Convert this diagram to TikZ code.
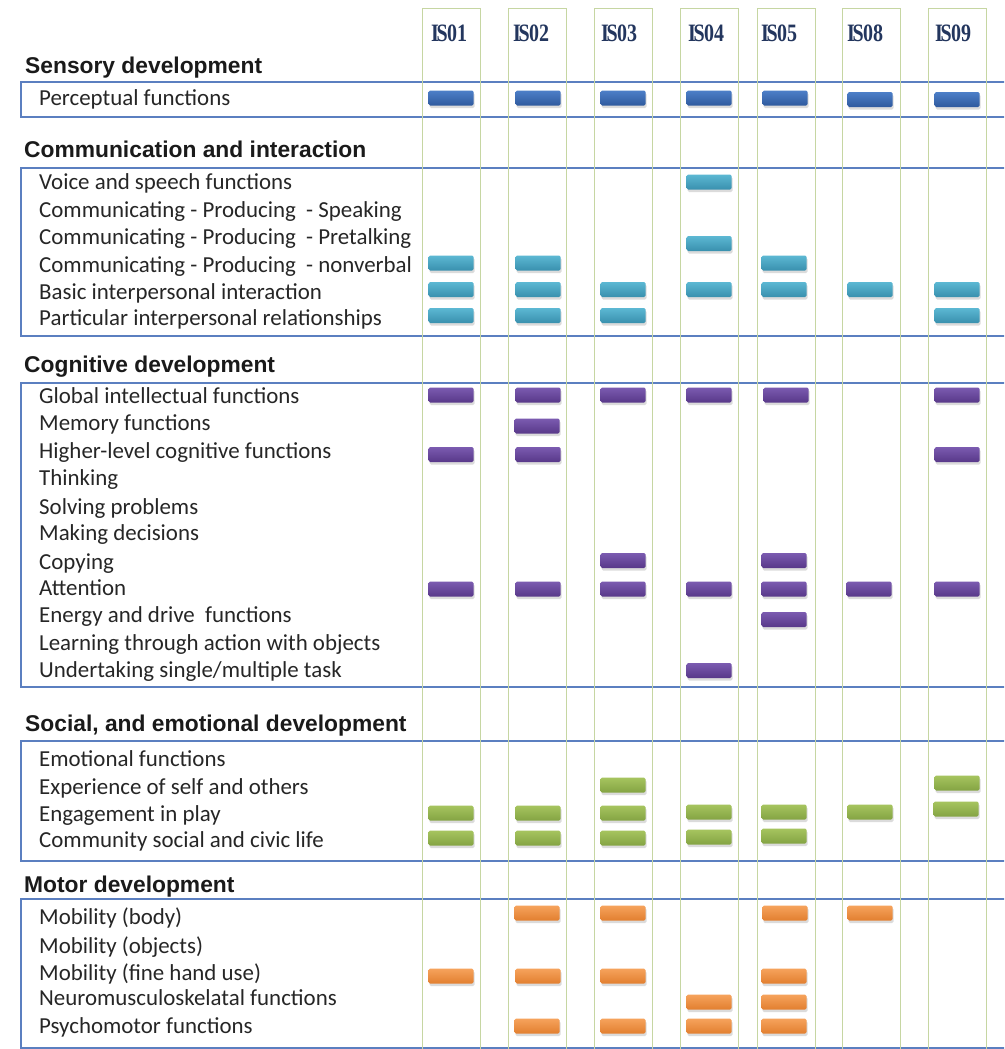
\documentclass[tikz,border=0pt]{standalone}
\usepackage{fontspec}
\setmainfont{Carlito}
\newfontfamily\headfont{Liberation Sans}
\newfontfamily\labfont{Liberation Serif}
\usetikzlibrary{shadows}
\definecolor{itemgray}{HTML}{262626}
\definecolor{headgray}{HTML}{1A1A1A}
\definecolor{labblue}{HTML}{23365E}
\definecolor{boxblue}{HTML}{5B7FC0}
\definecolor{colgreen}{HTML}{C6D6A2}
\definecolor{bluetop}{HTML}{4D7FC8}
\definecolor{bluebot}{HTML}{2F5A9E}
\definecolor{aquatop}{HTML}{5CB8D3}
\definecolor{aquabot}{HTML}{3990AE}
\definecolor{purptop}{HTML}{7B5BB0}
\definecolor{purpbot}{HTML}{583889}
\definecolor{greentop}{HTML}{A6C45F}
\definecolor{greenbot}{HTML}{84A443}
\definecolor{orangetop}{HTML}{F6A35C}
\definecolor{orangebot}{HTML}{E27F30}
\begin{document}
\begin{tikzpicture}[x=1pt,y=-1pt,
  item/.style={anchor=base west, inner sep=0pt, font=\fontsize{22.9}{27}\selectfont, text=itemgray},
  head/.style={anchor=base west, inner sep=0pt, font=\headfont\bfseries\fontsize{22.8}{27}\selectfont, text=headgray},
  collab/.style={anchor=base west, inner sep=0pt, text=labblue, font=\labfont\bfseries\fontsize{25}{29}\selectfont},
  secbox/.style={draw=boxblue, line width=1.5pt, anchor=north west, inner sep=0pt, minimum width=1000pt},
  colbox/.style={draw=colgreen, line width=1.4pt, anchor=north west, inner sep=0pt, minimum width=58pt, minimum height=1100pt},
  bar/.style={rounded corners=1.5pt, minimum width=45pt, minimum height=15pt, inner sep=0pt,
    drop shadow={opacity=0.28, shadow xshift=1pt, shadow yshift=-2.5pt}},
  bblue/.style={bar, top color=bluetop, bottom color=bluebot},
  baqua/.style={bar, top color=aquatop, bottom color=aquabot},
  bpurp/.style={bar, top color=purptop, bottom color=purpbot},
  bgreen/.style={bar, top color=greentop, bottom color=greenbot},
  borange/.style={bar, top color=orangetop, bottom color=orangebot}]
\clip (0,0) rectangle (1004,1049);
\fill[white] (0,0) rectangle (1004,1049);

% section boxes
\node[secbox, minimum height=35pt] (sensbox) at (20,81) {};
\node[secbox, minimum height=168pt] (commbox) at (20,167) {};
\node[secbox, minimum height=304pt] (cogbox) at (20,382) {};
\node[secbox, minimum height=120pt] (socbox) at (20,740) {};
\node[secbox, minimum height=149pt] (motbox) at (20,898) {};

% columns
\node[colbox] (c1) at (422,8) {};
\node[colbox] (c2) at (508,8) {};
\node[colbox] (c3) at (594,8) {};
\node[colbox] (c4) at (680,8) {};
\node[colbox] (c5) at (757,8) {};
\node[colbox] (c8) at (842,8) {};
\node[colbox] (c9) at (928,8) {};

% column labels
\foreach \n/\x/\d in {l1/431/01, l2/513/02, l3/601/03, l4/688/04, l5/761/05, l8/847/08, l9/935/09}
  \node[collab] (\n) at (\x,42) {\scalebox{0.8}[1]{I\kern-3pt S\kern-0.8pt\d}};

% headings
\node[head] (hsens) at (25,74) {Sensory development};
\node[head] (hcomm) at (24,157) {Communication and interaction};
\node[head] (hcog) at (24,372) {Cognitive development};
\node[head] (hsoc) at (25,731) {Social, and emotional development};
\node[head] (hmot) at (24,892) {Motor development};

% items
\node[item] (i1) at (39,105) {Perceptual functions};
\node[item] (i2) at (39,189) {Voice and speech functions};
\node[item] (i3) at (39,217) {Communicating - Producing\ \ - Speaking};
\node[item] (i4) at (39,244) {Communicating - Producing\ \ - Pretalking};
\node[item] (i5) at (39,272) {Communicating - Producing\ \ - nonverbal};
\node[item] (i6) at (39,299) {Basic interpersonal interaction};
\node[item] (i7) at (39,325) {Particular interpersonal relationships};
\node[item] (i8) at (39,403) {Global intellectual functions};
\node[item] (i9) at (39,430) {Memory functions};
\node[item] (i10) at (39,458) {Higher-level cognitive functions};
\node[item] (i11) at (39,485) {Thinking};
\node[item] (i12) at (39,514) {Solving problems};
\node[item] (i13) at (39,540) {Making decisions};
\node[item] (i14) at (39,569) {Copying};
\node[item] (i15) at (39,595) {Attention};
\node[item] (i16) at (39,622) {Energy and drive\ \ functions};
\node[item] (i17) at (39,650) {Learning through action with objects};
\node[item] (i18) at (39,677) {Undertaking single/multiple task};
\node[item] (i19) at (39,766) {Emotional functions};
\node[item] (i20) at (39,794) {Experience of self and others};
\node[item] (i21) at (39,821) {Engagement in play};
\node[item] (i22) at (39,847) {Community social and civic life};
\node[item] (i23) at (39,924) {Mobility (body)};
\node[item] (i24) at (39,953) {Mobility (objects)};
\node[item] (i25) at (39,980) {Mobility (fine hand use)};
\node[item] (i26) at (39,1005) {Neuromusculoskelatal functions};
\node[item] (i27) at (39,1033) {Psychomotor functions};

% bars: sensory
\foreach \n/\x/\y in {1/451/98, 2/538/98, 3/623/98, 4/709/98, 5/785/98, 8/870/99.5, 9/957/99.5}
  \node[bblue] (bp\n) at (\x,\y) {};
% communication
\node[baqua] (bv4) at (709,182) {};
\node[baqua] (bpt4) at (709,243.5) {};
\foreach \n/\x in {1/451, 2/538, 5/784}
  \node[baqua] (bnv\n) at (\x,263) {};
\foreach \n/\x in {1/451, 2/538, 3/623, 4/709, 5/784, 8/870, 9/957}
  \node[baqua] (bb\n) at (\x,289.5) {};
\foreach \n/\x in {1/451, 2/538, 3/623, 9/957}
  \node[baqua] (bpr\n) at (\x,315.5) {};
% cognitive
\foreach \n/\x in {1/451, 2/538, 3/623, 4/709, 5/786, 9/957}
  \node[bpurp] (bg\n) at (\x,395) {};
\node[bpurp] (bm2) at (537,426) {};
\foreach \n/\x in {1/451, 2/538, 9/957}
  \node[bpurp] (bh\n) at (\x,454.5) {};
\foreach \n/\x in {3/623, 5/784}
  \node[bpurp] (bc\n) at (\x,560.5) {};
\foreach \n/\x in {1/451, 2/538, 3/623, 4/709, 5/784, 8/869, 9/957}
  \node[bpurp] (ba\n) at (\x,589) {};
\node[bpurp] (be5) at (784,619.5) {};
\node[bpurp] (bu4) at (709,670.5) {};
% social
\node[bgreen] (bx3) at (623,785) {};
\node[bgreen] (bx9) at (957,783) {};
\foreach \n/\x/\y in {1/451/813, 2/538/813, 3/623/813, 4/709/812, 5/784/812, 8/870/812, 9/956/809}
  \node[bgreen] (bn\n) at (\x,\y) {};
\foreach \n/\x/\y in {1/451/838, 2/538/838, 3/623/838, 4/709/837, 5/784/836}
  \node[bgreen] (bcm\n) at (\x,\y) {};
% motor
\foreach \n/\x in {2/537, 3/623, 5/785, 8/870}
  \node[borange] (bmb\n) at (\x,913) {};
\foreach \n/\x in {1/451, 2/538, 3/623, 5/784}
  \node[borange] (bmf\n) at (\x,976) {};
\foreach \n/\x in {4/709, 5/784}
  \node[borange] (bnm\n) at (\x,1002) {};
\foreach \n/\x in {2/537, 3/623, 4/709, 5/784}
  \node[borange] (bps\n) at (\x,1026) {};
\end{tikzpicture}
\end{document}
